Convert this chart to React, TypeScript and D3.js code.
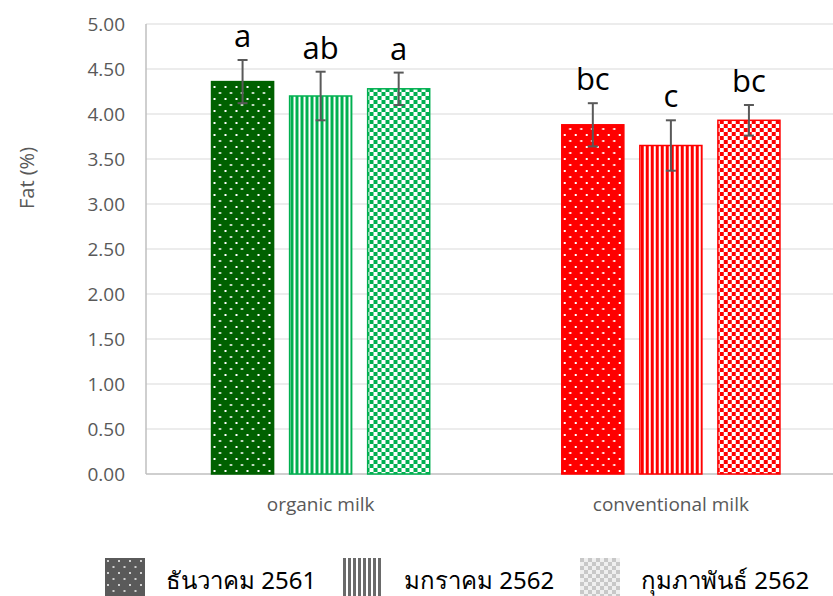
import { useMemo } from 'react';
import * as d3 from 'd3';

const categories = ['organic milk', 'conventional milk'];
const seriesNames = ['ธันวาคม 2561', 'มกราคม 2562', 'กุมภาพันธ์ 2562'];
const organicMeans = [4.36, 4.2, 4.28];
const organicErrors = [0.24, 0.27, 0.18];
const conventionalMeans = [3.88, 3.65, 3.93];
const conventionalErrors = [0.24, 0.28, 0.17];
const organicLetters = ['a', 'ab', 'a'];
const conventionalLetters = ['bc', 'c', 'bc'];
const yTicks = [0, 0.5, 1, 1.5, 2, 2.5, 3, 3.5, 4, 4.5, 5];

const groupColors = { 'organic milk': ['#006100', '#00b050'], 'conventional milk': ['#ff0000', '#ff0000'] };
const patternKinds = ['dots', 'stripes', 'checks'];

const W = 833;
const H = 596;
const margin = { top: 24, left: 146, bottom: 122 };
const plotRight = 846;

const font = "'Open Sans', 'Noto Sans', sans-serif";

function Pattern({ id, kind, fg, bg }: { id: string; kind: string; fg: string; bg: string }) {
  if (kind === 'dots') {
    return (
      <pattern id={id} patternUnits="userSpaceOnUse" width={11} height={12}>
        <rect width={11} height={12} fill={fg} />
        <rect x={2} y={2} width={2} height={2} fill={bg} />
        <rect x={7.5} y={8} width={2} height={2} fill={bg} />
      </pattern>
    );
  }
  if (kind === 'stripes') {
    return (
      <pattern id={id} patternUnits="userSpaceOnUse" width={5} height={5}>
        <rect width={5} height={5} fill={bg} />
        <rect x={0} width={3} height={5} fill={fg} />
      </pattern>
    );
  }
  return (
    <pattern id={id} patternUnits="userSpaceOnUse" width={8} height={8}>
      <rect width={8} height={8} fill={bg} />
      <rect width={4} height={4} fill={fg} />
      <rect x={4} y={4} width={4} height={4} fill={fg} />
    </pattern>
  );
}

export default function App() {
  const rows = useMemo(
    () => [
      { cat: categories[0], means: organicMeans, errs: organicErrors, letters: organicLetters },
      { cat: categories[1], means: conventionalMeans, errs: conventionalErrors, letters: conventionalLetters },
    ],
    []
  );

  const x0 = d3.scaleBand<string>().domain(categories).range([margin.left - 0.5, plotRight]);
  const x1 = d3
    .scaleBand<string>()
    .domain(seriesNames)
    .range([0, x0.bandwidth()])
    .paddingInner(0.205)
    .paddingOuter(0.846);
  const y = d3.scaleLinear().domain([0, 5]).range([H - margin.bottom, margin.top]);

  return (
    <svg width={W} height={H} style={{ position: 'absolute', left: 0, top: 0 }}>
      <defs>
        {categories.map((c, ci) =>
          patternKinds.map((k, ki) => (
            <Pattern
              key={`${ci}-${ki}`}
              id={`p-${ci}-${ki}`}
              kind={k}
              fg={groupColors[c as keyof typeof groupColors][ki === 0 ? 0 : 1]}
              bg="#ffffff"
            />
          ))
        )}
        <Pattern id="lg-0" kind="dots" fg="#5a5a5a" bg="#d0d0d0" />
        <Pattern id="lg-1" kind="stripes" fg="#6a6a6a" bg="#ffffff" />
        <Pattern id="lg-2" kind="checks" fg="#c8c8c8" bg="#efefef" />
      </defs>
      <rect width={W} height={H} fill="#fff" />

      {/* grid */}
      {yTicks.map(t => (
        <line key={t} x1={margin.left} x2={W} y1={y(t)} y2={y(t)} stroke={t === 0 ? '#bfbfbf' : '#d9d9d9'} strokeWidth={t === 0 ? 1.5 : 1} />
      ))}
      <line x1={margin.left} x2={margin.left} y1={margin.top} y2={y(0)} stroke="#bfbfbf" strokeWidth={1.5} />

      {yTicks.map(t => (
        <text key={t} x={125} y={y(t) + 6.5} textAnchor="end" fontSize={19} fill="#595959" fontFamily={font}>
          {t.toFixed(2)}
        </text>
      ))}
      <text transform="translate(34,178) rotate(-90)" textAnchor="middle" fontSize={20} fill="#595959" fontFamily={font}>
        Fat (%)
      </text>

      {rows.map((r, ci) => (
        <g key={r.cat} transform={`translate(${x0(r.cat)},0)`}>
          {seriesNames.map((s, si) => {
            const bx = x1(s)!;
            const bw = x1.bandwidth();
            const cx = bx + bw / 2;
            const top = y(r.means[si]);
            const eTop = y(r.means[si] + r.errs[si]);
            const eBot = y(r.means[si] - r.errs[si]);
            const stroke = groupColors[r.cat as keyof typeof groupColors][si === 0 ? 0 : 1];
            return (
              <g key={s}>
                <rect x={bx} y={top} width={bw} height={y(0) - top} fill={`url(#p-${ci}-${si})`} stroke={stroke} strokeWidth={1.5} />
                <line x1={cx} x2={cx} y1={eTop} y2={eBot} stroke="#595959" strokeWidth={2} />
                <line x1={cx - 5} x2={cx + 5} y1={eTop} y2={eTop} stroke="#595959" strokeWidth={2} />
                <line x1={cx - 5} x2={cx + 5} y1={eBot} y2={eBot} stroke="#595959" strokeWidth={2} />
                <text x={cx} y={eTop - 13} textAnchor="middle" fontSize={31} fill="#000" fontFamily={font}>
                  {r.letters[si]}
                </text>
              </g>
            );
          })}
          <text x={x0.bandwidth() / 2} y={511} textAnchor="middle" fontSize={19} fill="#595959" fontFamily={font}>
            {r.cat}
          </text>
        </g>
      ))}

      {/* legend */}
      {seriesNames.map((s, i) => {
        const lx = [105, 343, 580][i];
        return (
          <g key={s} transform={`translate(${lx},558)`}>
            <rect width={40} height={40} fill={`url(#lg-${i})`} />
            <text x={61} y={31} fontSize={24} fill="#000" fontFamily="'Noto Sans', 'DejaVu Sans', sans-serif">
              {s}
            </text>
          </g>
        );
      })}
    </svg>
  );
}
